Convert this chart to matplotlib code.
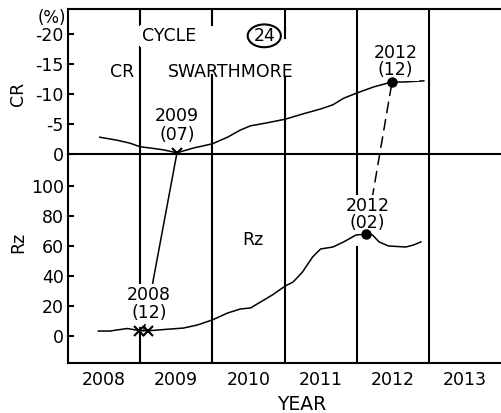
import matplotlib
matplotlib.use("Agg")
import matplotlib.pyplot as plt
from matplotlib.patches import ConnectionPatch, Ellipse

# ---------------- data ----------------
cr_year = [2008.44, 2008.68, 2008.86, 2009.00, 2009.14, 2009.32, 2009.51, 2009.74,
           2010.00, 2010.21, 2010.39, 2010.53, 2010.76, 2011.01, 2011.26, 2011.50,
           2011.67, 2011.82, 2012.01, 2012.24, 2012.49, 2012.65, 2012.93]
cr_value = [-2.8, -2.3, -1.8, -1.2, -1.0, -0.7, -0.2, -1.0,
            -1.7, -2.8, -4.0, -4.7, -5.2, -5.8, -6.7, -7.5,
            -8.2, -9.3, -10.2, -11.2, -12.0, -12.0, -12.2]

rz_year = [2008.42, 2008.58, 2008.82, 2009.00, 2009.12, 2009.38, 2009.60, 2009.79,
           2010.00, 2010.21, 2010.39, 2010.53, 2010.67, 2010.83, 2011.01, 2011.12,
           2011.25, 2011.39, 2011.50, 2011.67, 2011.82, 2011.99, 2012.13, 2012.22,
           2012.31, 2012.44, 2012.68, 2012.79, 2012.89]
rz_value = [3.3, 3.3, 5.0, 3.5, 3.5, 4.5, 5.3, 7.3,
            10.7, 15.3, 18.0, 18.7, 22.7, 27.3, 33.3, 36.0,
            42.7, 52.7, 58.0, 59.3, 62.7, 67.3, 68.0, 67.3,
            62.7, 60.0, 59.3, 60.7, 62.7]

# marked points
rz_min_year = [2008.99, 2009.11]
rz_min_value = [3.5, 3.5]
rz_min_mid = 2009.05
cr_min_year, cr_min_value = 2009.51, -0.2
rz_max_year, rz_max_value = 2012.13, 68.0
cr_max_year, cr_max_value = 2012.49, -12.0

year_labels = ["2008", "2009", "2010", "2011", "2012", "2013"]
year_bounds = [2009, 2010, 2011, 2012, 2013]
cr_ticks = [0, -5, -10, -15, -20]
cr_tick_labels = ["0", "-5", "-10", "-15", "-20"]
rz_ticks = [0, 20, 40, 60, 80, 100]
rz_tick_labels = ["0", "20", "40", "60", "80", "100"]

# ---------------- figure ----------------
W, H = 501, 413
fig = plt.figure(figsize=(W / 100, H / 100), dpi=100)
plt.rcParams['font.family'] = ['DejaVu Sans']
FS = 12.5
LW_AX = 1.5
LW = 1.1

L = 68 / W
ax_top = fig.add_axes([L, 1 - 154 / H, 1 - L, 145 / H])
ax_bot = fig.add_axes([L, 1 - 363 / H, 1 - L, 209 / H])
for ax in (ax_top, ax_bot):
    ax.patch.set_alpha(0)
    ax.set_xlim(2008, 2014)
    ax.spines['right'].set_visible(False)
    for s in ax.spines.values():
        s.set_linewidth(LW_AX)
    ax.tick_params(axis='y', direction='in', length=4, width=LW_AX, pad=3,
                   labelsize=FS)
ax_top.set_ylim(0, -24.17)
ax_bot.set_ylim(-18, 121.3)
ax_bot.spines['top'].set_visible(False)

ax_top.set_xticks([])
ax_bot.set_xticks([y + 0.5 for y in range(2008, 2014)], year_labels)
ax_bot.tick_params(axis='x', length=0, pad=6, labelsize=FS)
ax_top.set_yticks(cr_ticks, cr_tick_labels)
ax_bot.set_yticks(rz_ticks, rz_tick_labels)

# vertical year boundaries (segments in axes fraction, gaps around text)
top_segments = {2009: [(0, 0.738), (0.89, 1)], 2010: [(0, 0.545), (0.89, 1)],
                2011: [(0, 0.531), (0.80, 1)], 2012: [(0, 1)], 2013: [(0, 1)]}
bot_segments = {2009: [(0, 0.167), (0.383, 1)], 2010: [(0, 1)], 2011: [(0, 1)],
                2012: [(0, 0.555), (0.794, 1)], 2013: [(0, 1)]}
for yb in year_bounds:
    for a, b in top_segments[yb]:
        ax_top.axvline(yb, a, b, color='black', lw=LW_AX, zorder=1)
    for a, b in bot_segments[yb]:
        ax_bot.axvline(yb, a, b, color='black', lw=LW_AX, zorder=1)

# curves
ax_top.plot(cr_year, cr_value, color='black', lw=LW, zorder=2)
ax_bot.plot(rz_year, rz_value, color='black', lw=LW, zorder=2)

# markers
ax_bot.plot(rz_min_year, rz_min_value, 'x', color='black', ms=7, mew=1.5, zorder=6)
ax_top.plot([cr_min_year], [cr_min_value], 'x', color='black', ms=7, mew=1.5, zorder=6)
ax_bot.plot([rz_max_year], [rz_max_value], 'o', color='black', ms=6.5, zorder=6)
ax_top.plot([cr_max_year], [cr_max_value], 'o', color='black', ms=6.5, zorder=6)

# connectors
con1 = ConnectionPatch(xyA=(rz_min_mid, rz_min_value[0]), coordsA=ax_bot.transData,
                       xyB=(cr_min_year, cr_min_value), coordsB=ax_top.transData,
                       color='black', lw=LW, zorder=3)
con1.set_clip_on(False)
ax_bot.add_artist(con1)
con2 = ConnectionPatch(xyA=(rz_max_year, rz_max_value), coordsA=ax_bot.transData,
                       xyB=(cr_max_year, cr_max_value), coordsB=ax_top.transData,
                       color='black', lw=LW, zorder=3, linestyle=(0, (7, 4.5)))
con2.set_clip_on(False)
ax_bot.add_artist(con2)

wb = dict(boxstyle='square,pad=0.1', fc='white', ec='none')
tk = dict(color='black', fontsize=FS, ha='center', va='center', zorder=5)

# top panel texts
ax_top.text(2009.40, -19.7, "CYCLE", bbox=wb, **tk)
ax_top.text(2008.75, -13.7, "CR", **tk)
ax_top.text(2010.25, -13.7, "SWARTHMORE", **tk)
ax_top.text(2010.72, -19.7, "24", **tk)
ax_top.add_patch(Ellipse((2010.72, -19.7), 0.46, 3.8, fill=False, ec='black',
                         lw=LW_AX, zorder=5))
ax_top.text(2009.51, -4.8, "2009\n(07)", linespacing=1.05, bbox=wb, **tk)
ax_top.text(2012.54, -15.4, "2012\n(12)", linespacing=0.95, bbox=wb, **tk)

# bottom panel texts
ax_bot.text(2010.56, 64, "Rz", **tk)
ax_bot.text(2009.125, 21.3, "2008\n(12)", linespacing=1.0, bbox=wb, **tk)
ax_bot.text(2012.15, 81, "2012\n(02)", linespacing=0.92, bbox=wb, **tk)

# axis labels
fig.text(18 / W, 1 - 94 / H, "CR", rotation=90, ha='center', va='center', fontsize=FS)
fig.text(18 / W, 1 - 242 / H, "Rz", rotation=90, ha='center', va='center', fontsize=FS)
fig.text(52 / W, 1 - 18 / H, "(%)", ha='center', va='center', fontsize=FS - 0.5)
fig.text(302 / W, 1 - 405 / H, "YEAR", ha='center', va='center', fontsize=FS + 1)

fig.savefig("out.png", dpi=100)
